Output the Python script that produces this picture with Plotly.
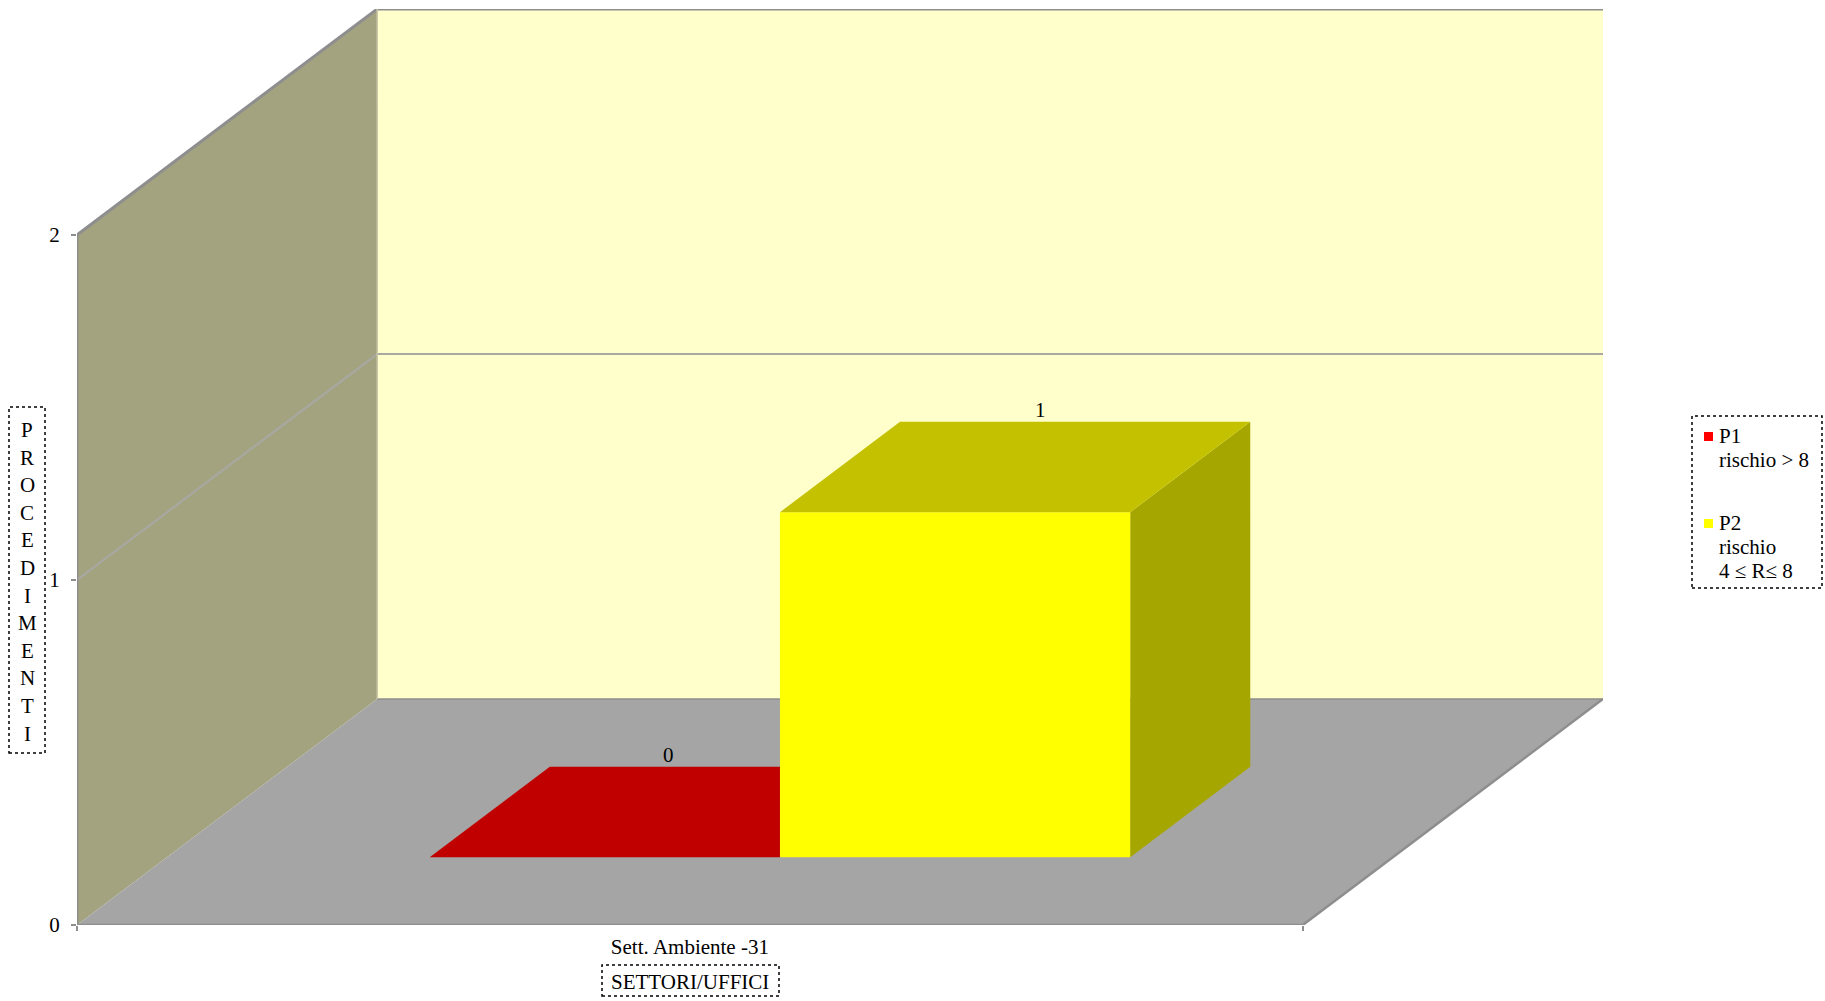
import plotly.graph_objects as go

# ---- data -------------------------------------------------------------
categories = ["Sett. Ambiente -31"]
series_names = ["P1", "P2"]
series_desc = [["rischio > 8"], ["rischio", "4 \u2264 R\u2264 8"]]
series_values = [[0], [1]]
y_tick_vals = [0, 1, 2]
y_max = 2

# ---- styles -----------------------------------------------------------
front_colors = ["#C00000", "#FFFF00"]
top_colors = ["#C00000", "#C4C200"]
side_colors = ["#A00000", "#A6A600"]
swatch_colors = ["#FF0000", "#FFFF00"]
label_depth = [0.53, 0.71]  # where along the bar depth each value label sits
BACK_WALL = "#FFFFCC"
SIDE_WALL = "#A3A380"
FLOOR = "#A5A5A5"
EDGE = "#8E8E8E"
GRID = "#A8A8A0"
FONT = "Liberation Serif"
FS = 21

# oblique projection: depth 1 shifts right by DX (x units) and up by DY (y units)
DX = 300 / 1225
DY = 0.655
GAP_WIDTH = 1.5
GAP_DEPTH = 1.5

# plot-area geometry (pixels)
W, H = 1825, 1001
PL, PT, PW, PH = 77, 9, 1526, 916


def paper_x(px):
    return (px - PL) / PW


def paper_y(py):
    return (PT + PH - py) / PH


def proj(x, d, h):
    return x + d * DX, h + d * DY


def poly(points, color, name=None):
    xs, ys = zip(*[proj(*p) for p in points])
    return go.Scatter(
        x=list(xs) + [xs[0]], y=list(ys) + [ys[0]], mode="lines",
        fill="toself", fillcolor=color, line=dict(width=0, color=color),
        hoverinfo="skip", showlegend=False, name=name,
    )


def path(points, color, width):
    xs, ys = zip(*[proj(*p) for p in points])
    return go.Scatter(
        x=list(xs), y=list(ys), mode="lines",
        line=dict(color=color, width=width),
        hoverinfo="skip", showlegend=False,
    )


n_cat = len(categories)
fig = go.Figure()

# walls and floor
fig.add_trace(poly([(0, 1, 0), (n_cat, 1, 0), (n_cat, 1, y_max), (0, 1, y_max)], BACK_WALL))
fig.add_trace(poly([(0, 0, 0), (0, 0, y_max), (0, 1, y_max), (0, 1, 0)], SIDE_WALL))
fig.add_trace(poly([(0, 0, 0), (n_cat, 0, 0), (n_cat, 1, 0), (0, 1, 0)], FLOOR))

# gridlines on the walls
for v in y_tick_vals[1:-1]:
    fig.add_trace(path([(0, 0, v), (0, 1, v), (n_cat, 1, v)], GRID, 2.2))

# wall / floor edges
fig.add_trace(path([(0, 1, 0), (n_cat, 1, 0)], EDGE, 1.5))
fig.add_trace(path([(0, 0, 0), (n_cat, 0, 0), (n_cat, 1, 0)], EDGE, 2.5))
fig.add_trace(path([(0, 0, 0), (0, 0, y_max), (0, 1, y_max), (n_cat, 1, y_max)], EDGE, 3))
fig.add_trace(path([(0, 1, 0), (0, 1, y_max)], "#C8C8A8", 1.5))

# bars
n_ser = len(series_names)
bw = 1 / (n_ser + GAP_WIDTH)
d0 = (GAP_DEPTH / 2) / (1 + GAP_DEPTH)
d1 = d0 + 1 / (1 + GAP_DEPTH)
labels = []
for j in range(n_cat):
    for i in range(n_ser):
        h = series_values[i][j]
        x0 = j + GAP_WIDTH / 2 * bw + i * bw
        x1 = x0 + bw
        if h > 0:
            fig.add_trace(poly([(x1, d0, 0), (x1, d1, 0), (x1, d1, h), (x1, d0, h)], side_colors[i]))
            fig.add_trace(poly([(x0, d0, 0), (x1, d0, 0), (x1, d0, h), (x0, d0, h)], front_colors[i]))
        fig.add_trace(poly([(x0, d0, h), (x1, d0, h), (x1, d1, h), (x0, d1, h)], top_colors[i]))
        lx, _ = proj((x0 + x1) / 2, d0 + label_depth[i] * (d1 - d0), h)
        _, ly = proj(0, d1, h)
        labels.append((lx, ly, str(h)))

annotations = []
for lx, ly, t in labels:
    annotations.append(dict(
        x=lx, y=ly, xref="x", yref="y", text=t, showarrow=False,
        xanchor="center", yanchor="bottom", yshift=-2,
        font=dict(family=FONT, size=FS, color="black"),
    ))

# vertical axis title, one letter per line
title_y = "PROCEDIMENTI"
step = 27.6
for k, ch in enumerate(title_y):
    annotations.append(dict(
        x=paper_x(27), y=paper_y(430 + k * step), xref="paper", yref="paper",
        text=ch, showarrow=False, xanchor="center", yanchor="middle",
        font=dict(family=FONT, size=FS, color="black"),
    ))

# horizontal axis title
annotations.append(dict(
    x=paper_x(690), y=paper_y(982), xref="paper", yref="paper",
    text="SETTORI/UFFICI", showarrow=False, xanchor="center", yanchor="middle",
    font=dict(family=FONT, size=FS, color="black"),
))

# legend entries
shapes = []
ly_pos = 436
for i in range(n_ser):
    lines = [series_names[i]] + series_desc[i]
    shapes.append(dict(
        type="rect", xref="paper", yref="paper",
        x0=paper_x(1704), x1=paper_x(1713), y0=paper_y(ly_pos + 5), y1=paper_y(ly_pos - 4),
        fillcolor=swatch_colors[i], line=dict(width=0),
    ))
    for line in lines:
        annotations.append(dict(
            x=paper_x(1717), y=paper_y(ly_pos), xref="paper", yref="paper",
            text=line, showarrow=False, xanchor="left", yanchor="middle",
            font=dict(family=FONT, size=FS, color="black"),
        ))
        ly_pos += 24
    ly_pos += 39

# dotted frames
for bx0, bx1, by0, by1 in [(9, 45, 407, 753), (602, 779, 965, 996), (1692, 1822, 416, 588)]:
    shapes.append(dict(
        type="rect", xref="paper", yref="paper",
        x0=paper_x(bx0), x1=paper_x(bx1), y0=paper_y(by1), y1=paper_y(by0),
        line=dict(color="black", width=1.5, dash="dot"),
    ))

fig.update_layout(
    width=W, height=H,
    margin=dict(l=PL, r=W - PL - PW, t=PT, b=H - PT - PH),
    paper_bgcolor="white", plot_bgcolor="white",
    showlegend=False,
    annotations=annotations, shapes=shapes,
    xaxis=dict(
        range=[0, n_cat + DX], showgrid=False, zeroline=False, showline=False,
        tickmode="array", tickvals=[j + 0.5 for j in range(n_cat)], ticktext=categories,
        ticks="", ticklabelstandoff=7,
        tickfont=dict(family=FONT, size=FS, color="black"),
        minor=dict(tickmode="array", tickvals=list(range(n_cat + 1)), ticks="outside",
                   ticklen=5, tickcolor=EDGE, tickwidth=1.5, showgrid=False),
        fixedrange=True,
    ),
    yaxis=dict(
        range=[0, y_max + DY], showgrid=False, zeroline=False, showline=False,
        tickmode="array", tickvals=y_tick_vals,
        ticks="outside", ticklen=5, tickcolor=EDGE, tickwidth=1.5,
        ticklabelstandoff=7,
        tickfont=dict(family=FONT, size=FS, color="black"),
        fixedrange=True,
    ),
)

fig.write_html("out.html")
